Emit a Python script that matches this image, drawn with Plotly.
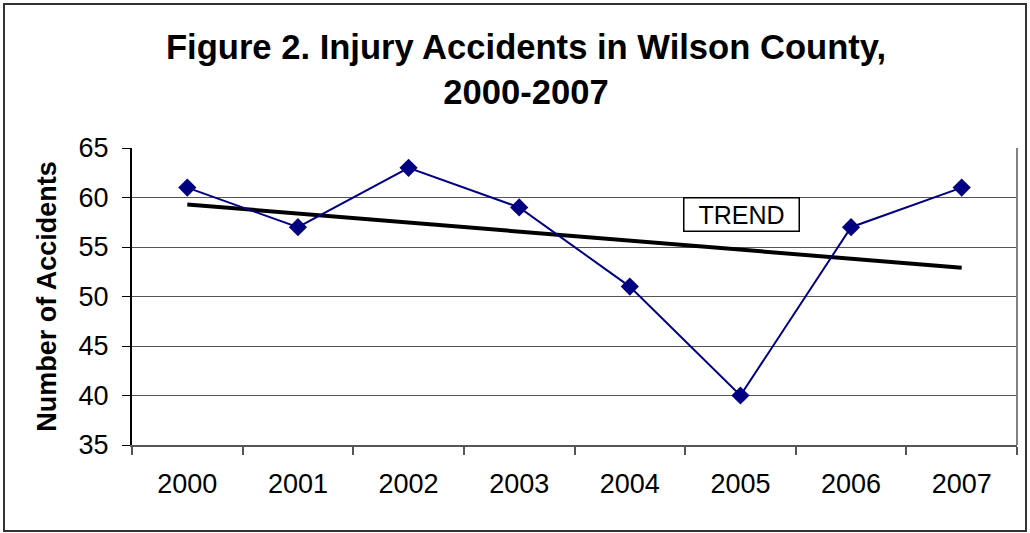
import plotly.graph_objects as go

years = ["2000", "2001", "2002", "2003", "2004", "2005", "2006", "2007"]
accidents = [61, 57, 63, 59, 51, 40, 57, 61]
trend_years = ["2000", "2007"]
trend_values = [59.3, 52.9]
y_ticks = [35, 40, 45, 50, 55, 60, 65]

fig = go.Figure()
fig.add_trace(go.Scatter(x=trend_years, y=trend_values, mode="lines",
                         line=dict(color="black", width=4), hoverinfo="skip"))
fig.add_trace(go.Scatter(x=years, y=accidents, mode="lines+markers",
                         line=dict(color="#000080", width=2),
                         marker=dict(symbol="diamond", size=14, color="#000080")))

W0, H0 = 885, 297  # plot area size in px
L, T, B = 132, 148, 445

def px_x(px):
    return (px - L) / W0

def px_y(py):
    return (B - py) / H0

fig.add_shape(type="rect", xref="paper", yref="paper",
              x0=px_x(4), x1=px_x(1026), y0=px_y(531), y1=px_y(4),
              line=dict(color="#333333", width=2), layer="below")
fig.add_shape(type="line", xref="paper", yref="paper", x0=1, x1=1, y0=0, y1=1,
              line=dict(color="#808080", width=2))

fig.add_annotation(x=px_x(741), y=px_y(214.5), xref="paper", yref="paper",
                   xanchor="center", yanchor="middle",
                   text="TREND", showarrow=False,
                   font=dict(family="Liberation Sans, Arial", size=25, color="black"),
                   bordercolor="black", borderwidth=1.5, borderpad=2,
                   bgcolor="white", width=110, height=28)

fig.update_layout(
    width=1030, height=533,
    margin=dict(l=L, r=1030 - 1017, t=T, b=533 - B),
    paper_bgcolor="white", plot_bgcolor="white",
    showlegend=False,
    font=dict(family="Liberation Sans, Arial", color="black"),
    title=dict(text="<b>Figure 2. Injury Accidents in Wilson County,<br>2000-2007</b>",
               x=526 / 1030, xanchor="center", xref="container",
               y=(533 - 59) / 533, yref="container", yanchor="middle",
               font=dict(size=34.6, family="Liberation Sans, Arial", color="black")),
    xaxis=dict(type="category", categoryorder="array", categoryarray=years,
               range=[-0.5, 7.5], tickson="boundaries", ticks="outside", ticklen=8,
               tickcolor="#555555", tickwidth=2, showline=True, linecolor="#555555",
               linewidth=2, showgrid=False, tickfont=dict(size=27), zeroline=False,
               ticklabelstandoff=14),
    yaxis=dict(range=[35, 65], tickvals=y_ticks, ticks="outside", ticklen=8,
               tickcolor="black", tickwidth=1, showline=True, linecolor="black",
               linewidth=2, showgrid=True, gridcolor="#555555", gridwidth=1,
               tickfont=dict(size=27), zeroline=False, ticklabelstandoff=8,
               title=dict(text="<b>Number of Accidents</b>", font=dict(size=27),
                          standoff=14)),
)

fig.write_html("out.html", config={"displayModeBar": False},
               post_script="document.body.style.margin='0';document.body.style.padding='0';")
